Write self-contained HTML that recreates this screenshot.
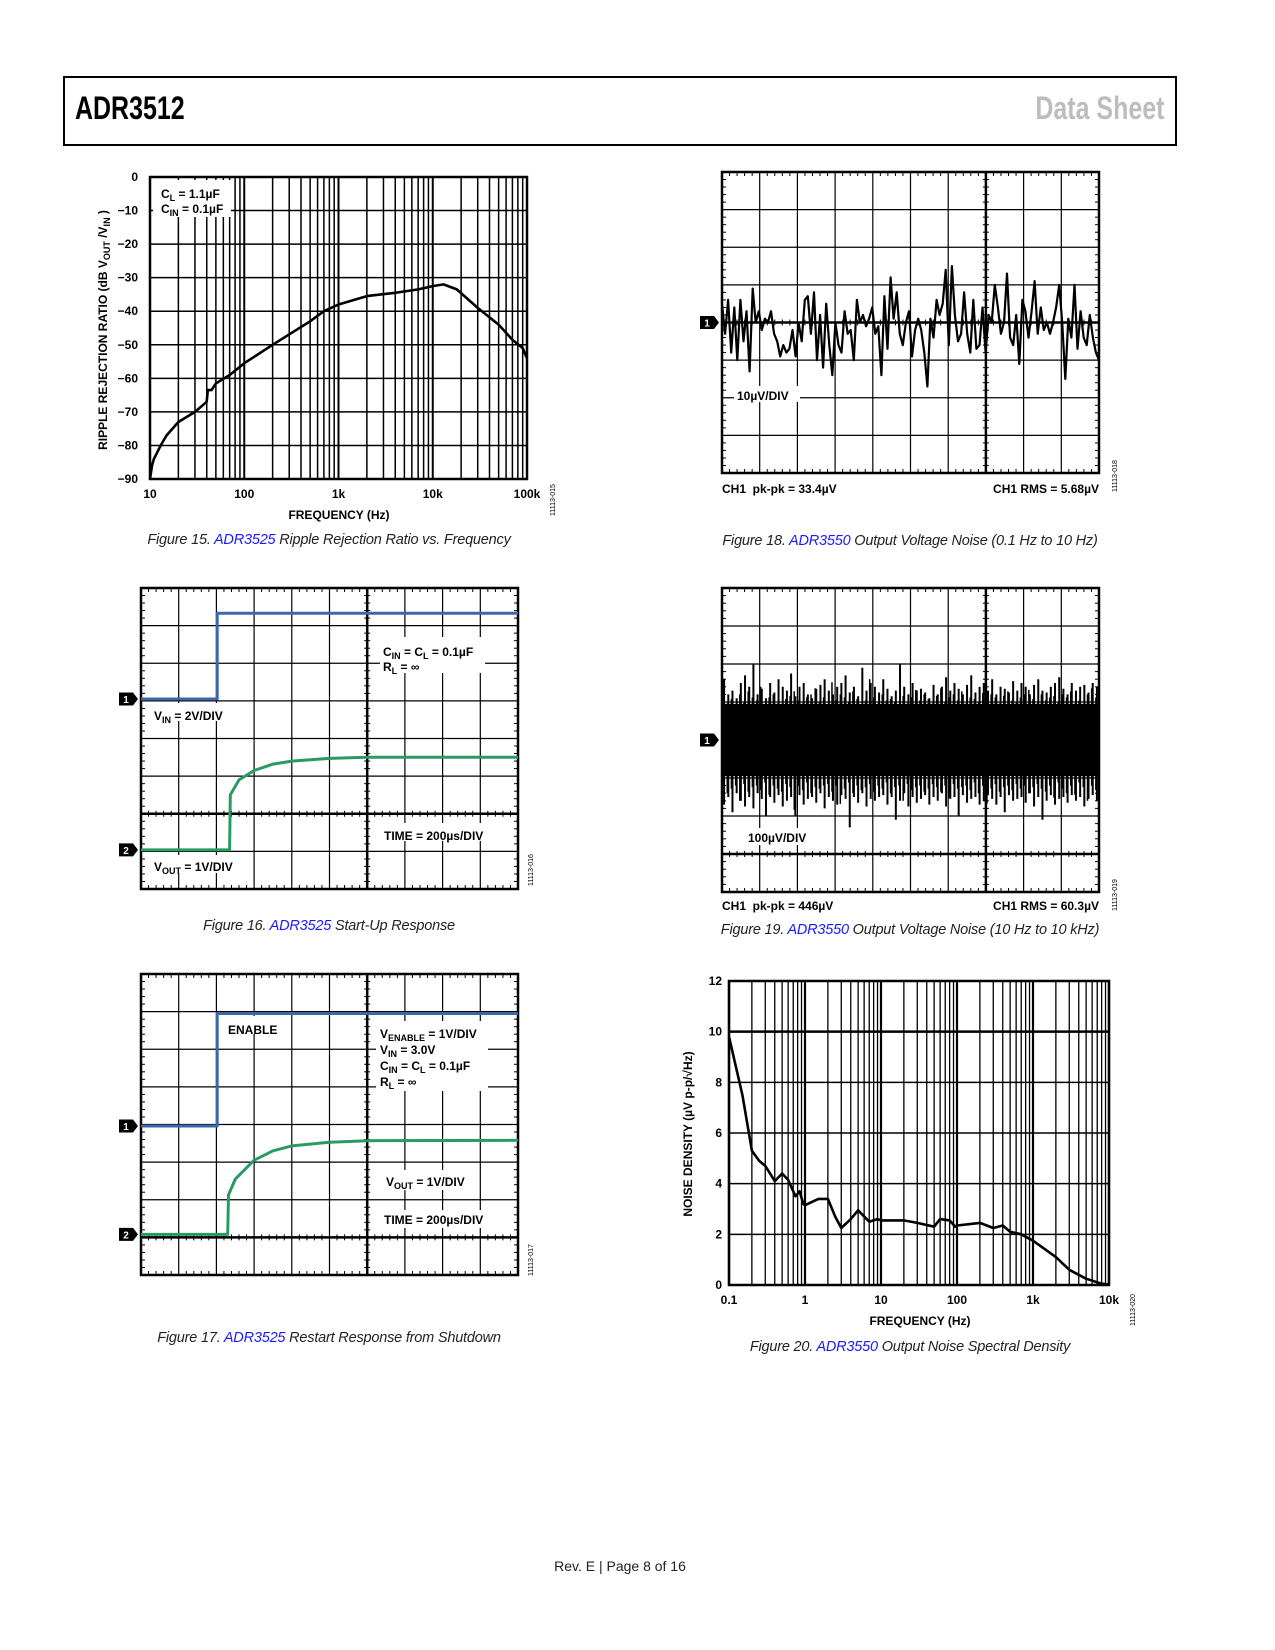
<!DOCTYPE html>
<html><head><meta charset="utf-8"><style>
html,body{margin:0;padding:0;background:#fff;}
body{width:1275px;height:1650px;position:relative;overflow:hidden;font-family:"Liberation Sans",Arial,sans-serif;}
.cap{position:absolute;width:600px;text-align:center;font-style:italic;font-size:14.5px;letter-spacing:-0.2px;color:#222;line-height:16px;}
.cap a{color:#1a1aff;text-decoration:none;}
svg text{font-family:"Liberation Sans",Arial,sans-serif;}
.hdr{position:absolute;top:12px;font-family:"Liberation Sans",Arial,sans-serif;font-weight:bold;font-size:32px;transform:scaleX(0.78);}
</style></head><body>
<div style="position:absolute;left:63px;top:76px;width:1110px;height:66px;border:2.5px solid #000;">
 <div class="hdr" style="left:10px;transform-origin:left center;">ADR3512</div>
 <div class="hdr" style="right:11px;transform-origin:right center;color:#bdbdbd;">Data Sheet</div>
</div>
<svg id="s" width="1275" height="1650" style="position:absolute;left:0;top:0" xmlns="http://www.w3.org/2000/svg"></svg>
<div class="cap" style="left:29px;top:532px;">Figure 15. <a>ADR3525</a> Ripple Rejection Ratio vs. Frequency</div>
<div class="cap" style="left:610px;top:533px;">Figure 18. <a>ADR3550</a> Output Voltage Noise (0.1 Hz to 10 Hz)</div>
<div class="cap" style="left:29px;top:918px;">Figure 16. <a>ADR3525</a> Start-Up Response</div>
<div class="cap" style="left:610px;top:922px;">Figure 19. <a>ADR3550</a> Output Voltage Noise (10 Hz to 10 kHz)</div>
<div class="cap" style="left:29px;top:1330px;">Figure 17. <a>ADR3525</a> Restart Response from Shutdown</div>
<div class="cap" style="left:610px;top:1339px;">Figure 20. <a>ADR3550</a> Output Noise Spectral Density</div>
<div style="position:absolute;left:420px;width:400px;top:1558px;text-align:center;font-size:14px;color:#222;">Rev. E | Page 8 of 16</div>
<script>
// ---- Figure 15 data ----
const f15Freq = [10,10.5,11,13,15,20,30,40,41,45,50,70,100,200,500,700,1000,2000,4000,7000,10000,13000,18000,30000,50000,70000,90000,100000];
const f15Db = [-90,-86,-84,-80,-77,-73,-70,-67,-63.5,-63.5,-61.5,-59,-55.5,-50,-43,-40,-38,-35.5,-34.5,-33.5,-32.5,-32,-33.5,-39,-44,-48.5,-51,-54];
const f15YTicks = [0,-10,-20,-30,-40,-50,-60,-70,-80,-90];
const f15YTickLabels = ["0","\u221210","\u221220","\u221230","\u221240","\u221250","\u221260","\u221270","\u221280","\u221290"];
const f15XTicks = [10,100,1000,10000,100000];
const f15XTickLabels = ["10","100","1k","10k","100k"];
// ---- Figure 20 data ----
const f20Freq = [0.1,0.15,0.2,0.25,0.3,0.4,0.5,0.6,0.75,0.85,0.95,1.0,1.5,2,2.5,3,4,5,7,9,10,20,30,50,60,80,95,100,200,300,400,500,700,1000,2000,3000,5000,8000,10000];
const f20Density = [9.8,7.5,5.3,4.9,4.7,4.1,4.4,4.15,3.5,3.7,3.2,3.15,3.4,3.4,2.7,2.25,2.6,2.95,2.5,2.6,2.55,2.55,2.45,2.3,2.6,2.55,2.3,2.35,2.45,2.25,2.35,2.1,2.0,1.75,1.1,0.6,0.25,0.05,0.02];
const f20YTicks = [0,2,4,6,8,10,12];
const f20XTicks = [0.1,1,10,100,1000,10000];
const f20XTickLabels = ["0.1","1","10","100","1k","10k"];
// ---- Figure 16 data (time div, level div from top) ----
const f16VinT = [0,2.02,2.02,10];
const f16VinV = [2.95,2.95,0.67,0.67];
const f16VoutT = [0,2.35,2.37,2.6,3.0,3.5,4,5,6,10];
const f16VoutV = [6.96,6.96,5.5,5.1,4.85,4.68,4.6,4.53,4.5,4.5];
// ---- Figure 17 data ----
const f17EnT = [0,2.02,2.02,10];
const f17EnV = [4.04,4.04,1.05,1.05];
const f17VoutT = [0,2.3,2.32,2.5,3.0,3.5,4,5,6,10];
const f17VoutV = [6.92,6.92,5.87,5.45,4.95,4.7,4.57,4.47,4.43,4.42];
// ---- Figure 18 data (uV, 10uV/div) ----
const f18Noise = [5,-3,6,-8,4,-10,6,-5,3,-13,9,0,3,-2,1,0,3,-3,-5,-9,-6,-8,-7,-2,-9,0,-5,6,7,-3,8,-10,2,-12,5,-6,-14,0,-6,-8,3,-3,-2,-10,6,0,2,-1,1,4,-3,-1,-14,7,-7,12,1,8,-3,-6,0,3,-9,-2,1,-2,-8,-17,1,-4,6,2,5,14,-6,15,2,-5,-3,8,-3,-8,6,-7,-6,4,-8,2,0,10,4,-3,0,13,-4,-6,2,-11,6,3,-4,3,11,-3,4,-2,0,-3,0,4,10,0,-15,1,-4,10,-7,3,-4,-6,2,-4,-8,-10];
// ---- Figure 19 data (uV, 100uV/div) ----
const f19Upper = [160,120,130,110,150,170,140,200,120,135,110,150,125,160,140,130,175,115,140,150,120,110,135,145,160,130,120,140,150,170,125,140,115,190,130,150,140,125,160,135,115,130,200,140,120,150,130,135,125,110,145,120,140,165,130,150,135,120,145,170,125,140,150,130,160,120,140,135,125,155,130,150,140,120,145,160,130,125,140,150,165,135,120,150,130,140,145,125,150,140];
const f19Lower = [-170,-150,-190,-140,-160,-175,-150,-180,-140,-155,-200,-150,-165,-145,-175,-160,-150,-200,-145,-170,-155,-150,-165,-140,-180,-150,-160,-170,-145,-155,-230,-150,-165,-140,-175,-155,-160,-150,-145,-170,-150,-210,-160,-140,-175,-150,-165,-155,-145,-170,-150,-160,-140,-175,-155,-150,-200,-145,-165,-155,-150,-170,-160,-145,-155,-170,-150,-190,-145,-160,-155,-150,-165,-140,-175,-150,-210,-160,-145,-170,-155,-150,-165,-145,-160,-150,-175,-155,-145,-160];
const f19Core = [95];

const NS='http://www.w3.org/2000/svg';
const S=document.getElementById('s');
function mk(tag,attrs,parent){const e=document.createElementNS(NS,tag);for(const k in attrs)e.setAttribute(k,attrs[k]);(parent||S).appendChild(e);return e;}
function line(x1,y1,x2,y2,w,p){const e=mk('line',{x1:x1,y1:y1,x2:x2,y2:y2,stroke:'#000','stroke-width':w},p);


return e;}
function txt(x,y,html,anchor,size,p,rot){const e=mk('text',{x:x,y:y,'text-anchor':anchor||'start','font-size':size||12,'font-weight':'bold',fill:'#000'},p);e.innerHTML=html;if(rot)e.setAttribute('transform','rotate(-90 '+x+' '+y+')');return e;}
function sub(s){return '<tspan font-size="9" dy="3">'+s+'</tspan><tspan dy="-3"> </tspan>';}
function code(x,y,s){const e=txt(x,y,s,'middle',7,S,true);e.setAttribute('font-weight','normal');

}

// ===== Figure 15 =====
(function(){
const g=mk('g',{});


const L=150,R=527,T=177,B=479;
const xs=f=>L+(Math.log10(f)-1)/4*(R-L);
const ys=v=>T+(0-v)/90*(B-T);
for(let d=1;d<=4;d++){for(let m=2;m<=9;m++){const f=Math.pow(10,d)*m;line(xs(f),T,xs(f),B,1.5,g);}}
f15XTicks.forEach(f=>line(xs(f),T,xs(f),B,2,g));
f15YTicks.forEach(v=>line(L,ys(v),R,ys(v),1.5,g));
const box=mk('rect',{x:L,y:T,width:R-L,height:B-T,fill:'none',stroke:'#000','stroke-width':2.5},g);


const lg=mk('rect',{x:153,y:180,width:78,height:37,fill:'#fff'},g);


let t=txt(161,198,'C'+sub('L')+'= 1.1\u00b5F','start',12,g);


t=txt(161,213,'C'+sub('IN')+'= 0.1\u00b5F','start',12,g);


const pts=f15Freq.map((f,i)=>xs(f).toFixed(1)+','+ys(f15Db[i]).toFixed(1)).join(' ');
const pl=mk('polyline',{points:pts,fill:'none',stroke:'#000','stroke-width':2.6,'stroke-linejoin':'round'},g);


f15YTicks.forEach((v,i)=>{const e=txt(138,ys(v)+4,f15YTickLabels[i],'end',12,g);

});
f15XTicks.forEach((f,i)=>{const e=txt(xs(f),498,f15XTickLabels[i],'middle',12,g);

});
t=txt(339,519,'FREQUENCY (Hz)','middle',12,g);


t=txt(107,330,'RIPPLE REJECTION RATIO (dB V'+sub('OUT')+'/V'+sub('IN')+')','middle',12,g,true);


code(555,500,'11113-015');
})();

// ===== Scope grid helper =====
function scope(name,L,T,R,B,thickX,thickY){
const g=mk('g',{});


const dx=(R-L)/10,dy=(B-T)/8;
for(let i=1;i<10;i++)line(L+i*dx,T,L+i*dx,B,i===thickX?2.5:1.2,g);
for(let j=1;j<8;j++)line(L,T+j*dy,R,T+j*dy,j===thickY?2.5:1.2,g);
for(let k=1;k<50;k++){if(k%5===0)continue;const x=L+k*dx/5;line(x,T,x,T+4,1,g);line(x,B-4,x,B,1,g);line(x,T+thickY*dy-3,x,T+thickY*dy+3,1,g);}
for(let k=1;k<40;k++){if(k%5===0)continue;const y=T+k*dy/5;line(L,y,L+4,y,1,g);line(R-4,y,R,y,1,g);line(L+thickX*dx-3,y,L+thickX*dx+3,y,1,g);}
const box=mk('rect',{x:L,y:T,width:R-L,height:B-T,fill:'none',stroke:'#000','stroke-width':2.5},g);


return {g:g,xs:t=>L+t*dx,ys:v=>T+v*dy,dx:dx,dy:dy};
}
function marker(x,y,n,p){const e=mk('path',{d:'M'+(x)+','+(y-6.5)+' h14 l5,6.5 l-5,6.5 h-14 z',fill:'#000'},p);


const t=mk('text',{x:x+7,y:y+4,'text-anchor':'middle','font-size':10,'font-weight':'bold',fill:'#fff'},p);t.textContent=n;}
function bgtext(p,x,y,w,h){const r=mk('rect',{x:x,y:y,width:w,height:h,fill:'#fff'},p);

}
function trace(sc,ts,vs,color,name){const pts=ts.map((t,i)=>sc.xs(t).toFixed(1)+','+sc.ys(vs[i]).toFixed(1)).join(' ');
const e=mk('polyline',{points:pts,fill:'none',stroke:color,'stroke-width':3,'stroke-linejoin':'round'},sc.g);

}

// ===== Figure 16 =====
(function(){
const sc=scope('figure-16-chart',141,588,518,889,6,6);
const g=sc.g;
bgtext(g,380,637,105,36);bgtext(g,152,703,72,18);bgtext(g,378,823,112,18);bgtext(g,150,855,90,18);
trace(sc,f16VinT,f16VinV,'#3f67a8','vin-trace');
trace(sc,f16VoutT,f16VoutV,'#2a9a63','vout-trace');
txt(383,656,'C'+sub('IN')+'= C'+sub('L')+'= 0.1\u00b5F','start',12,g);
txt(383,671,'R'+sub('L')+'= \u221e','start',12,g);
txt(154,720,'V'+sub('IN')+'= 2V/DIV','start',12,g);
txt(384,840,'TIME = 200\u00b5s/DIV','start',12,g);
txt(154,871,'V'+sub('OUT')+'= 1V/DIV','start',12,g);
marker(119,sc.ys(2.95),'1',S);marker(119,sc.ys(6.96),'2',S);
code(533,870,'11113-016');
})();

// ===== Figure 17 =====
(function(){
const sc=scope('figure-17-chart',141,974,518,1275,6,7);
const g=sc.g;
bgtext(g,222,1016,62,18);bgtext(g,376,1021,112,70);bgtext(g,382,1170,95,20);bgtext(g,378,1210,112,18);
trace(sc,f17EnT,f17EnV,'#3f67a8','enable-trace');
trace(sc,f17VoutT,f17VoutV,'#2a9a63','vout-trace');
txt(228,1034,'ENABLE','start',12,g);
txt(380,1038,'V'+sub('ENABLE')+'= 1V/DIV','start',12,g);
txt(380,1054,'V'+sub('IN')+'= 3.0V','start',12,g);
txt(380,1070,'C'+sub('IN')+'= C'+sub('L')+'= 0.1\u00b5F','start',12,g);
txt(380,1086,'R'+sub('L')+'= \u221e','start',12,g);
txt(386,1186,'V'+sub('OUT')+'= 1V/DIV','start',12,g);
txt(384,1224,'TIME = 200\u00b5s/DIV','start',12,g);
marker(119,sc.ys(4.04),'1',S);marker(119,sc.ys(6.92),'2',S);
code(533,1260,'11113-017');
})();

// ===== Figure 18 =====
(function(){
const sc=scope('figure-18-chart',722,172,1099,473,7,4);
const g=sc.g;
bgtext(g,734,386,66,16);
const n=f18Noise.length;
const pts=f18Noise.map((v,i)=>sc.xs(i/(n-1)*10).toFixed(1)+','+sc.ys(4-v/10).toFixed(1)).join(' ');
const e=mk('polyline',{points:pts,fill:'none',stroke:'#000','stroke-width':2.2,'stroke-linejoin':'round'},g);


txt(737,400,'10\u00b5V/DIV','start',12,g);
txt(722,493,'CH1&#160; pk-pk = 33.4\u00b5V','start',12,g);
txt(1099,493,'CH1 RMS = 5.68\u00b5V','end',12,g);
marker(700,sc.ys(4),'1',S);
code(1117,476,'11113-018');
})();

// ===== Figure 19 =====
(function(){
const sc=scope('figure-19-chart',722,588,1099,892,7,7);
const g=sc.g;
const n=f19Upper.length;
const c=f19Core[0];
const core=mk('rect',{x:sc.xs(0),y:sc.ys(4-c/100),width:sc.xs(10)-sc.xs(0),height:sc.ys(4+c/100)-sc.ys(4-c/100),fill:'#000'},g);


for(let i=0;i<n;i++){
 const x=sc.xs((i+0.5)/n*10);
 const s=mk('line',{x1:x,y1:sc.ys(4-f19Upper[i]/100),x2:x,y2:sc.ys(4-f19Lower[i]/100),stroke:'#000','stroke-width':2},g);
 
 
 const x2=sc.xs((i+0.25)/n*10);
 const s2=mk('line',{x1:x2,y1:sc.ys(4-(f19Upper[(i+7)%n]*0.8)/100),x2:x2,y2:sc.ys(4-(f19Lower[(i+13)%n]*0.8)/100),stroke:'#000','stroke-width':1.5},g);
 
 
}
bgtext(g,745,828,72,17);
txt(748,842,'100\u00b5V/DIV','start',12,g);
txt(722,910,'CH1&#160; pk-pk = 446\u00b5V','start',12,g);
txt(1099,910,'CH1 RMS = 60.3\u00b5V','end',12,g);
marker(700,sc.ys(4),'1',S);
code(1117,895,'11113-019');
})();

// ===== Figure 20 =====
(function(){
const g=mk('g',{});


const L=729,R=1109,T=981,B=1285;
const xs=f=>L+(Math.log10(f)+1)/5*(R-L);
const ys=v=>B-v/12*(B-T);
for(let d=-1;d<=3;d++){for(let m=2;m<=9;m++){const f=Math.pow(10,d)*m;line(xs(f),T,xs(f),B,1.3,g);}}
f20XTicks.forEach(f=>line(xs(f),T,xs(f),B,2.2,g));
f20YTicks.forEach(v=>line(L,ys(v),R,ys(v),v===10?2.5:1.5,g));
const box=mk('rect',{x:L,y:T,width:R-L,height:B-T,fill:'none',stroke:'#000','stroke-width':2.5},g);


const pts=f20Freq.map((f,i)=>xs(f).toFixed(1)+','+ys(f20Density[i]).toFixed(1)).join(' ');
const pl=mk('polyline',{points:pts,fill:'none',stroke:'#000','stroke-width':2.6,'stroke-linejoin':'round'},g);


f20YTicks.forEach(v=>{const e=txt(722,ys(v)+4,String(v),'end',12,g);

});
f20XTicks.forEach((f,i)=>{const e=txt(xs(f),1304,f20XTickLabels[i],'middle',12,g);

});
let t=txt(920,1325,'FREQUENCY (Hz)','middle',12,g);


t=txt(692,1134,'NOISE DENSITY (\u00b5V p-p/\u221aHz)','middle',12,g,true);


code(1135,1310,'11113-020');
})();
</script>
</body></html>
